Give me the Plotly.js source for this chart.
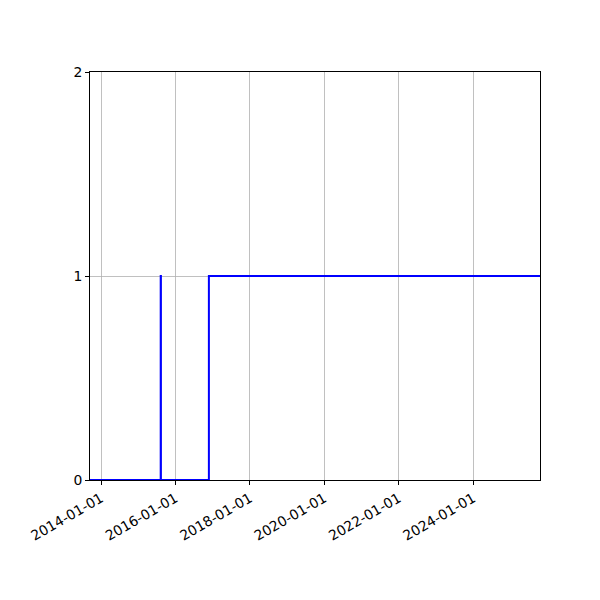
<!DOCTYPE html>
<html>
<head>
<meta charset="utf-8">
<script src="https://cdn.plot.ly/plotly-3.0.1.min.js"></script>
<style>html,body{margin:0;padding:0;background:#fff;}#chart{width:600px;height:600px;}</style>
</head>
<body>
<div id="chart"></div>
<script>
// Step series (held values, drawn with 'hv' steps)
var dates = ["2013-09-15", "2015-08-10", "2015-08-12", "2016-11-25", "2025-10-19"];
var values = [0, 1, 0, 1, 1];
var xRange = ["2013-09-15", "2025-10-19"];
var xTicks = ["2014-01-01", "2016-01-01", "2018-01-01", "2020-01-01", "2022-01-01", "2024-01-01"];
var yTicks = [0, 1, 2];

var font = {family: "DejaVu Sans, sans-serif", size: 13.9, color: "#000"};

Plotly.newPlot("chart", [{
  x: dates,
  y: values,
  type: "scatter",
  mode: "lines",
  line: {color: "#0000ff", width: 2, shape: "hv"},
  showlegend: false,
  hoverinfo: "skip"
}], {
  width: 600,
  height: 600,
  margin: {l: 90, r: 60, t: 72, b: 120, pad: 0},
  paper_bgcolor: "#fff",
  plot_bgcolor: "#fff",
  font: font,
  xaxis: {
    type: "date",
    range: xRange,
    tickmode: "array",
    tickvals: xTicks,
    ticktext: xTicks,
    tickangle: -30,
    ticks: "outside",
    ticklen: 4,
    tickcolor: "#000",
    showgrid: true,
    gridcolor: "#b0b0b0",
    gridwidth: 0.8,
    showline: true,
    linecolor: "#000",
    linewidth: 1,
    mirror: true,
    zeroline: false,
    tickfont: font
  },
  yaxis: {
    range: [0, 2],
    tickmode: "array",
    tickvals: yTicks,
    ticktext: yTicks.map(String),
    ticks: "outside",
    ticklen: 4,
    tickcolor: "#000",
    showgrid: true,
    gridcolor: "#b0b0b0",
    gridwidth: 0.8,
    showline: true,
    linecolor: "#000",
    linewidth: 1,
    mirror: true,
    zeroline: false,
    tickfont: font
  }
}, {staticPlot: true, displayModeBar: false});
</script>
</body>
</html>
